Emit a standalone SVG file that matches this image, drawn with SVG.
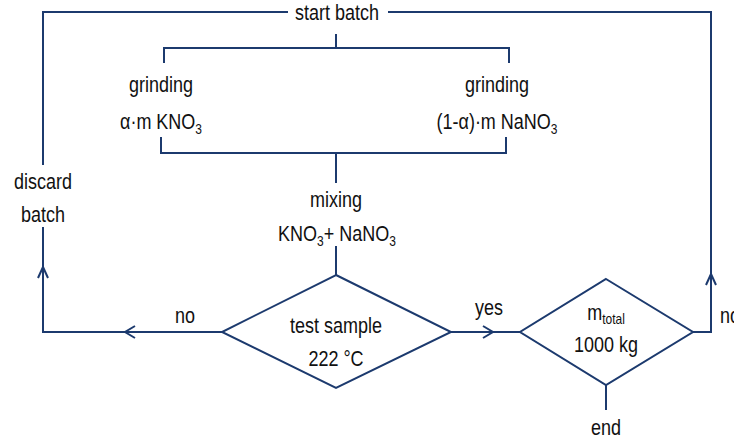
<svg xmlns="http://www.w3.org/2000/svg" width="734" height="437" viewBox="0 0 734 437">
<style>
.l{fill:none;stroke:#1c3a6e;stroke-width:2;stroke-linejoin:miter}
.t{font-family:"Liberation Sans",Arial,sans-serif;font-size:18px;fill:#111;text-anchor:middle}
.s{font-size:12px}
</style>
<rect width="734" height="437" fill="#fff"/>
<g id="connectors">
<polyline class="l" points="288,12 43,12 43,165"/>
<polyline class="l" points="388,12 711,12 711,332 693,332"/>
<polyline class="l" points="164,63 164,48 509,48 509,63"/>
<line class="l" x1="336" y1="34" x2="336" y2="48"/>
<polyline class="l" points="161,137 161,153 506,153 506,137"/>
<line class="l" x1="336" y1="153" x2="336" y2="183"/>
<line class="l" x1="336" y1="246" x2="336" y2="275"/>
<polyline class="l" points="222,332 43,332 43,227"/>
<polyline class="l" points="48,278 43,267 38,278"/>
<polyline class="l" points="135,326 125,332 135,338"/>
<line class="l" x1="451" y1="332" x2="520" y2="332"/>
<polyline class="l" points="483,326 493,332 483,338"/>
<polyline class="l" points="716,285 711,274 706,285"/>
<line class="l" x1="606" y1="385" x2="606" y2="410"/>
</g>
<g id="start"><text class="t" transform="translate(337,20) scale(1,1.18)">start batch</text></g>
<g id="grind1">
<text class="t" transform="translate(161,92) scale(1,1.18)">grinding</text>
<text class="t" transform="translate(161,129) scale(1,1.18)">α·m KNO<tspan class="s" dy="4">3</tspan></text>
</g>
<g id="grind2">
<text class="t" transform="translate(497,92) scale(1,1.18)">grinding</text>
<text class="t" transform="translate(497,129) scale(1,1.18)">(1-α)·m NaNO<tspan class="s" dy="4">3</tspan></text>
</g>
<g id="mixing">
<text class="t" transform="translate(336,207) scale(1,1.18)">mixing</text>
<text class="t" transform="translate(337,241) scale(1,1.18)">KNO<tspan class="s" dy="4">3</tspan><tspan dy="-4">+ NaNO</tspan><tspan class="s" dy="4">3</tspan></text>
</g>
<g id="discard">
<text class="t" transform="translate(43,189) scale(1,1.18)">discard</text>
<text class="t" transform="translate(43,222) scale(1,1.18)">batch</text>
</g>
<g id="test">
<polygon class="l" points="336,275 451,332 336,388 222,332"/>
<text class="t" transform="translate(336,333) scale(1,1.18)">test sample</text>
<text class="t" transform="translate(336,366) scale(1,1.18)">222 °C</text>
</g>
<g id="total">
<polygon class="l" points="606,279 693,332 606,385 520,332"/>
<text class="t" transform="translate(606,320) scale(1,1.18)">m<tspan class="s" dy="3">total</tspan></text>
<text class="t" transform="translate(606,352) scale(1,1.18)">1000 kg</text>
</g>
<g id="end"><text class="t" transform="translate(606,435) scale(1,1.18)">end</text></g>
<g id="labels">
<text class="t" transform="translate(185,323) scale(1,1.18)">no</text>
<text class="t" transform="translate(489,315) scale(1,1.18)">yes</text>
<text class="t" style="text-anchor:start" transform="translate(720,323) scale(1,1.18)">no</text>
</g>
</svg>
